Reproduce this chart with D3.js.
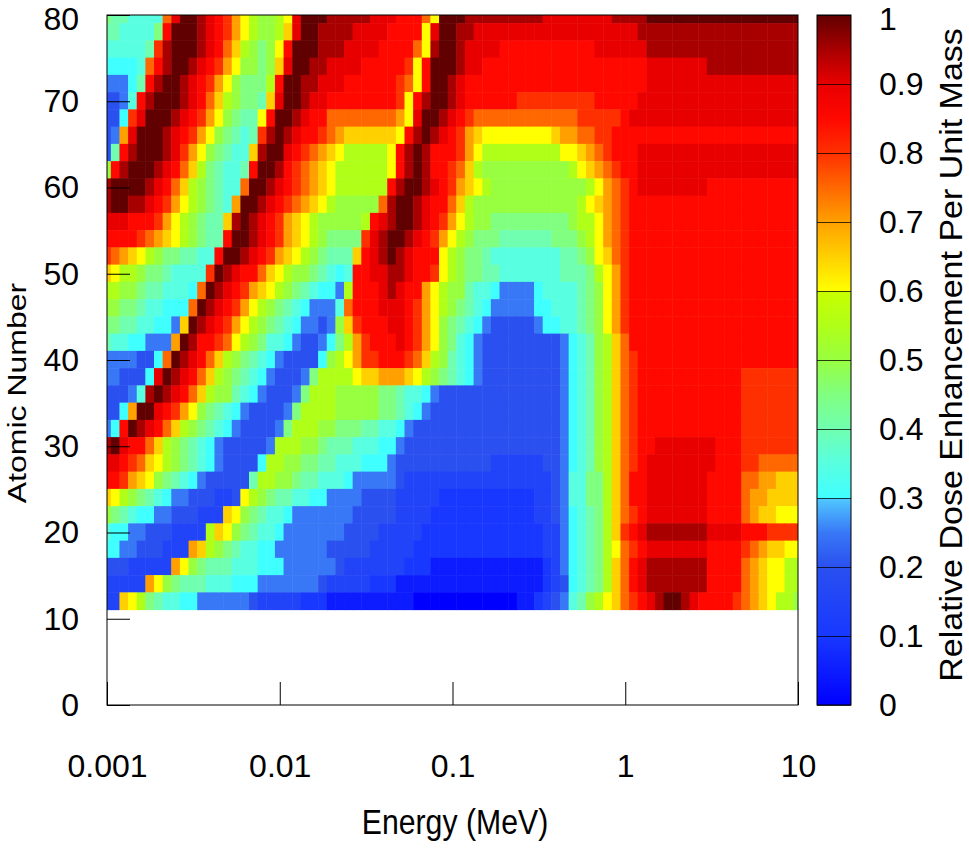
<!DOCTYPE html>
<html>
<head>
<meta charset="utf-8">
<script src="https://cdn.jsdelivr.net/npm/d3@7"></script>
<style>
  body { margin: 0; background: #fff; }
  svg { display: block; }
</style>
</head>
<body>
<svg id="chart" width="969" height="848"></svg>
<script>
// ==============================================
// Data
// ==============================================
// log10 of the energy (MeV) at the centre of each heat-map column
const logEnergies = [-3,-2.95,-2.9,-2.85,-2.8,-2.75,-2.7,-2.65,-2.6,-2.55,-2.5,-2.45,-2.4,-2.35,-2.3,-2.25,-2.2,-2.15,-2.1,-2.05,
  -2,-1.95,-1.9,-1.85,-1.8,-1.75,-1.7,-1.65,-1.6,-1.55,-1.5,-1.45,-1.4,-1.35,-1.3,-1.25,-1.2,-1.15,-1.1,-1.05,
  -1,-0.95,-0.9,-0.85,-0.8,-0.75,-0.7,-0.65,-0.6,-0.55,-0.5,-0.45,-0.4,-0.35,-0.3,-0.25,-0.2,-0.15,-0.1,-0.05,
  0,0.05,0.1,0.15,0.2,0.25,0.3,0.35,0.4,0.45,0.5,0.55,0.6,0.65,0.7,0.75,0.8,0.85,0.9,0.95,1];

// atomic number at the centre of each heat-map row (each row is 2 units tall)
const atomicNumbers = [80,78,76,74,72,70,68,66,64,62,60,58,56,54,52,50,48,46,44,42,40,38,36,34,32,30,28,26,24,22,20,18,16,14,12];

// value code: a = 0, b = 0.05, ... u = 1.0
const levelCodes = "abcdefghijklmnopqrstu";

// one string per row (same order as atomicNumbers), one letter per energy column
const doseRows = [
  "jiihhhhpsu utsrqomlkk lmsuuutttt tsssrrrpmu uutttttttt tsssssssst tttuuuuuuu uuuuuuuuuu u",
  "iihhhhjruu utsrqomlkk lnsuutttts sssrrrrmsu uttsssssss ssssssssss sstttttttt tttttttttt t",
  "hhhhhiqtuu utsrpnlkjk mruuutttss ssrrrrpmtu utssssrrrr rrrrrrrsss sssttttttt tttttttttt t",
  "gggghprtuu tsrqomkkjk nsuuttssss rrrrrqmruu utssrrrrrr rrrrrrrrrr rrrsssssss tttttttttt t",
  "fffgirtuut srqomkjjjl ruuttsssrr rrrrqpmruu tsrrrrrrrr rrrrrrrrrr rrrsssssss ssssssssss s",
  "eefhrtuuut srpnlkjjin suutssrrrr rrrrqmrtuu tsrrrrrrqq qqqqqqqrrr rrssssssss ssssssssss s",
  "eegqsuuuts rqomkjiimr uutsrrpppp ppppomsuut srqppppppp pppppqqqqq rsssssssss ssssssssss s",
  "efosuuutsr qomkjihiqt utsrrqponn nnnnmrtuts rqonmmmmmm mmnooppqqr rrrrrrrrrr rrrrrrrrrr r",
  "eirtuuutsq omkjihhntu usrqponmll lllmrtutrr rqomllllll lllmmnopqr rrssssssss ssssssssss s",
  "krtuuutsrp nljihhiruu trqponmlll lllmrtutrr qpnlkkkkkk kkkklmnopq rrssssssss ssssssssss s",
  "tuuuutsrpn lkjihhpuut srqponmlll lllrtuutsr qonmlkkkkk kkkkkklmop qrssssssss rrrrrrrrrr r",
  "tuuttsrqom lkjihouuts rqponmlkkk kkptuutsrr pnlkkkkkkk kkkkklmnop qrrrrrrrrr rrrrrrrrrr r",
  "sssrrrqoml kjiintutsr qonmlkkkkk lrstuutsrq omlkkjjjjj jjjjkllmop qrrrrrrrrr rrrrrrrrrr r",
  "rrrrqponml kjiiruutsr qonmlkjjjj qstuutsrqo mlkjjjiiii iijjjklmop qrrrrrrrrr rrrrrrrrrr r",
  "qponmlkjji ihhruutsrq onmlkjiiin rstutsrrrm lkjjihhhhh hhhiijkmnp qrrrrrrrrr rrrrrrrrrr r",
  "nmllkjjihh hhqutsrrpn mlkkjihghr rssttsrrqm lkjjiihhhh hhhiiijlmo qrrrrrrrrr rrrrrrrrrr r",
  "llkkjiihhh gputsrqonm lkjihggflr rrstsrroml kkihhgffff ghhhhijkmo qrrrrrrrrr rrrrrrrrrr r",
  "kkjjihhggg putsrqomlk jihgfffhpr rrsssrqoml kjihgfffff gghhhijkmo qrrrrrrrrr rrrrrrrrrr r",
  "jjiihhggfn utsrqomlkj ihgffefknq rrrssrqomk jihgfeeeee fgghhijkmo qrrrrrrrrr rrrrrrrrrr r",
  "ihhggfffou trrqpmlkjh hgfeefgjlo qrrrsrqomk jhgfeeeeee eeefghikln prrrrrrrrr rrrrrrrrrr r",
  "ffffeegput srpnlkjihg feeeegklmo qqrrrqpnlk ihgfeeeeee eeefghikln pqrrrrrrrr rrrrrrrrrr r",
  "ffeeegsuts rpnlkjihgf eeefjllllm nnooonmlkj ihgfeeeeee eeefghikln pqrrrrrrrr rrrrqqqqqq q",
  "eeefhtutsr pnlkkihgfe eefjlllkkk kkjjihhgfe eeeeeeeeee eeefghikln pqrrrrrrrr rrrrqqqqqq q",
  "eegouusrqo mkjihgfeee efjllllkkk kkjjihgfee eeeeeeeeee eeefghikln pqrrrrrrrr rrrrqqqqqq q",
  "fgrutsrpnl kjihgfeeee fjlllkkjjj iihhgfeeee eeeeeeeeee eeefghikln pqrrrrrrrr rrrrqqqqqq q",
  "tusrrpnlkj ihgfeeeeef lllkkjiiih hhggfeeeee eeeeeeeeee eeefghikln pqrrssssss srrrqqqqqq q",
  "ssrqpnmlkj ihgfeeeegl lkkjjiihhh gggfeeeeee eeeeeddddd deefghikln pqrsssssss srrrqqpppp p",
  "rrqonmkjih gfeeeeeill kkjiihhhgf ffffeddddd dddddddddd ddefhhjjln prrsssssss rrrrppoonn n",
  "nmlkjihgff eeeddemlkj iihhggffff eeeedddddc cccccccccc ddefhhjjln prrsssssss rrrrpoonnn n",
  "kjihggffee edddnmkjih hgfffffffe eeeeddddcc cccccccccc ddefghijln pqrsssssss rrrrponnmm m",
  "hggffeeedd ddlnmkjihh gfffffffee eedddddccc cccccccccc cddfghijln qrsttttttt ssssrrrqqq q",
  "ggffeeeddd onlkjihhgg ffffffeeee edddddcccc cccccccccc cddfghijlm pqrsssssss rrrrqponnm m",
  "eeedddddom kjiiihhhgg gffffffedd dddddcccbb bbbbbbbbbb bcdfghijln prsttttttt rrrrponmml l",
  "dddddomkji iihhhgggff fffffedddd dcccbbbbbb bbbbbbbbbb bcdeghijln prsttttttt rrrrponmml l",
  "ddnmljihhg gffffffedd dddcccbbbb bbbbbbaaaa aaaaaaaabb cdefhiklmn pqrstuutsr rrrqponmll k"
];

const energyTicks = [0.001, 0.01, 0.1, 1, 10];
const energyTickLabels = ["0.001", "0.01", "0.1", "1", "10"];
const atomicTicks = [0, 10, 20, 30, 40, 50, 60, 70, 80];
const colorbarTicks = [0, 0.1, 0.2, 0.3, 0.4, 0.5, 0.6, 0.7, 0.8, 0.9, 1];
const colorbarTickLabels = ["0", "0.1", "0.2", "0.3", "0.4", "0.5", "0.6", "0.7", "0.8", "0.9", "1"];

// palette (value -> colour)
const paletteStops = [0, 0.1, 0.2, 0.25, 0.299, 0.3, 0.35, 0.4, 0.45, 0.5, 0.55, 0.599, 0.6, 0.65, 0.7, 0.75, 0.8, 0.85, 0.9, 0.95, 1];
const paletteColors = ["#0000ff", "#1838ff", "#2a50f0", "#3878f6", "#50c8ff", "#40ffff", "#58ffe0", "#70ffb0", "#80ff80", "#98ff40",
  "#b0ff18", "#c8ff00", "#ffff00", "#ffd000", "#ffa000", "#ff6800", "#ff3000", "#ff0800", "#e80000", "#a80000", "#600000"];

// ==============================================
// Layout
// ==============================================
const svg = d3.select("#chart");
const font = "'Liberation Sans', Arial, Helvetica, sans-serif";
const plot = { left: 107, right: 798, top: 15, bottom: 705 };
const bar = { left: 817, width: 34 };
const halfBin = 0.025, halfRow = 1, lowestZ = 11, highestZ = 80;

const x = d3.scaleLog().domain([0.001, 10]).range([plot.left, plot.right]);
const y = d3.scaleLinear().domain([0, 80]).range([plot.bottom, plot.top]);
const colour = d3.scaleLinear().domain(paletteStops).range(paletteColors).clamp(true);

const defs = svg.append("defs");
defs.append("clipPath").attr("id", "plotClip")
  .append("rect")
  .attr("x", plot.left).attr("y", plot.top)
  .attr("width", plot.right - plot.left).attr("height", plot.bottom - plot.top);

// ==============================================
// Heat map cells
// ==============================================
const cells = [];
atomicNumbers.forEach((z, r) => {
  const codes = doseRows[r].replace(/ /g, "");
  logEnergies.forEach((le, c) => {
    const k = levelCodes.indexOf(codes[c]);
    if (k >= 0) cells.push({ z, le, v: k / (levelCodes.length - 1) });
  });
});

svg.append("g")
  .attr("clip-path", "url(#plotClip)")
  .selectAll("rect")
  .data(cells)
  .join("rect")
    .attr("x", d => x(Math.pow(10, d.le - halfBin)) - 0.5)
    .attr("width", d => x(Math.pow(10, d.le + halfBin)) - x(Math.pow(10, d.le - halfBin)) + 0.5)
    .attr("y", d => y(Math.min(d.z + halfRow, highestZ)) - 0.5)
    .attr("height", d => y(Math.max(d.z - halfRow, lowestZ)) - y(Math.min(d.z + halfRow, highestZ)) + 0.5)
    .attr("fill", d => colour(d.v));

// plot frame
svg.append("rect")
  .attr("x", plot.left).attr("y", plot.top)
  .attr("width", plot.right - plot.left).attr("height", plot.bottom - plot.top)
  .attr("fill", "none").attr("stroke", "#000").attr("stroke-width", 1);

// ==============================================
// Axes
// ==============================================
function styleAxis(g) {
  g.select(".domain").remove();
  g.attr("font-family", font).attr("font-size", 32);
  g.selectAll(".tick line").attr("stroke", "#000");
  g.selectAll(".tick text").attr("fill", "#000");
}

svg.append("g")
  .attr("transform", `translate(0,${plot.bottom})`)
  .call(d3.axisBottom(x).tickValues(energyTicks)
    .tickFormat((d, i) => energyTickLabels[i])
    .tickSizeInner(-23).tickSizeOuter(0).tickPadding(49))
  .call(styleAxis);

svg.append("g")
  .attr("transform", `translate(${plot.left},0)`)
  .call(d3.axisLeft(y).tickValues(atomicTicks)
    .tickSizeInner(-23).tickSizeOuter(0).tickPadding(28))
  .call(styleAxis)
  // keep the top label inside the page
  .call(g => g.selectAll(".tick text").filter(d => d === 80).attr("dy", "0.45em"));

// ==============================================
// Colour bar
// ==============================================
const cbY = d3.scaleLinear().domain([0, 1]).range([plot.bottom, plot.top]);
const grad = defs.append("linearGradient")
  .attr("id", "cbGrad")
  .attr("x1", 0).attr("y1", 1).attr("x2", 0).attr("y2", 0);
grad.selectAll("stop")
  .data(paletteStops)
  .join("stop")
    .attr("offset", d => d)
    .attr("stop-color", (d, i) => paletteColors[i]);

svg.append("rect")
  .attr("x", bar.left).attr("y", plot.top)
  .attr("width", bar.width).attr("height", plot.bottom - plot.top)
  .attr("fill", "url(#cbGrad)")
  .attr("stroke", "#000").attr("stroke-width", 1);

svg.append("g")
  .attr("transform", `translate(${bar.left + bar.width},0)`)
  .call(d3.axisRight(cbY).tickValues(colorbarTicks)
    .tickFormat((d, i) => colorbarTickLabels[i])
    .tickSizeInner(-bar.width).tickSizeOuter(0).tickPadding(28))
  .call(styleAxis)
  .call(g => g.selectAll(".tick line").attr("stroke-opacity", 0.75))
  .call(g => g.selectAll(".tick text").filter(d => d === 1).attr("dy", "0.45em"));

// ==============================================
// Titles
// ==============================================
svg.append("text")
  .attr("transform", "translate(455,834) scale(0.84,1)")
  .attr("text-anchor", "middle")
  .attr("font-family", font).attr("font-size", 36)
  .text("Energy (MeV)");

svg.append("text")
  .attr("transform", "translate(26,393) rotate(-90) scale(1,0.8)")
  .attr("text-anchor", "middle")
  .attr("font-family", font).attr("font-size", 32)
  .text("Atomic Number");

svg.append("text")
  .attr("transform", "translate(962,355) rotate(-90) scale(1,0.9)")
  .attr("text-anchor", "middle")
  .attr("font-family", font).attr("font-size", 34)
  .text("Relative Dose Enhancement Per Unit Mass");
</script>
</body>
</html>
